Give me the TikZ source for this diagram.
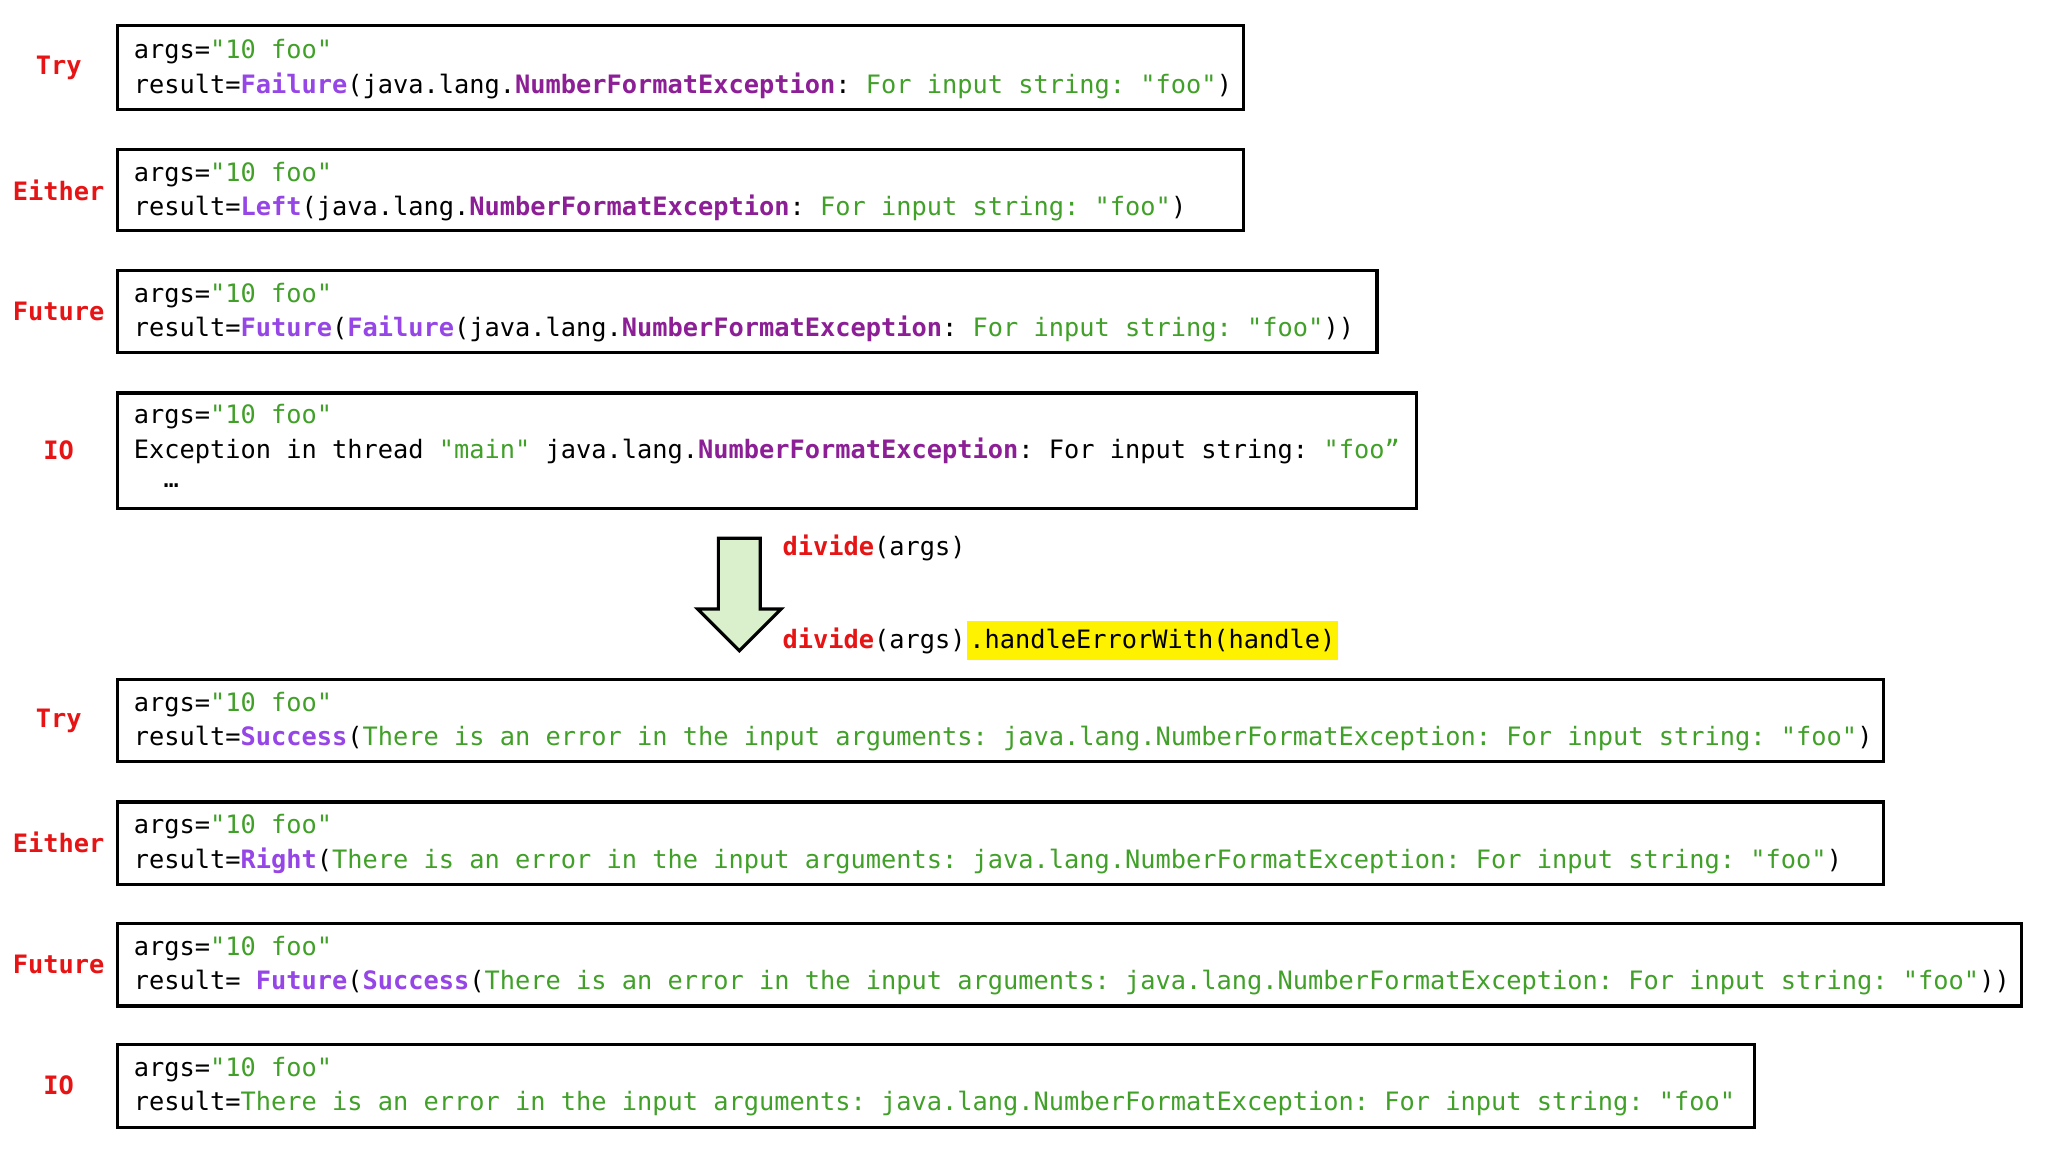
\documentclass[tikz,border=0pt]{standalone}
\usepackage{fontspec}
\setmonofont{DejaVu Sans Mono}
\definecolor{cg}{RGB}{64,160,40}
\definecolor{cp}{RGB}{150,70,230}
\definecolor{cd}{RGB}{140,30,150}
\definecolor{cr}{RGB}{230,20,20}
\definecolor{ag}{RGB}{218,240,204}
\newcommand\G[1]{\textcolor{cg}{#1}}
\newcommand\PP[1]{\textcolor{cp}{\bfseries #1}}
\newcommand\D[1]{\textcolor{cd}{\bfseries #1}}
\newcommand\NFE{java.lang.\D{NumberFormatException}}
\begin{document}
\begin{tikzpicture}[x=0.375pt,y=-0.375pt,
  bx/.style={draw,line width=1.2pt},
  ln/.style={anchor=west,inner sep=0pt,font=\ttfamily\fontsize{9.5}{11}\selectfont},
  lab/.style={font=\ttfamily\bfseries\fontsize{9.5}{11}\selectfont,text=cr}]
\useasboundingbox (0,0) rectangle (2048,1152);
\begin{scope}[scale=0.995]
% top boxes
\draw[bx] (118,26) rectangle (1250,110);
\node[lab] (l1) at (59,68) {Try};
\node[ln] (a1) at (134,52) {args=\G{"10 foo"}};
\node[ln] (b1) at (134,86) {result=\PP{Failure}(\NFE: \G{For input string: "foo"})};
\draw[bx] (118,150) rectangle (1250,232);
\node[lab] (l2) at (59,191) {Either};
\node[ln] (a2) at (134,175) {args=\G{"10 foo"}};
\node[ln] (b2) at (134,209) {result=\PP{Left}(\NFE: \G{For input string: "foo"})};
\draw[bx] (118,272) rectangle (1384,354);
\node[lab] (l3) at (59,313) {Future};
\node[ln] (a3) at (134,297) {args=\G{"10 foo"}};
\node[ln] (b3) at (134,331) {result=\PP{Future}(\PP{Failure}(\NFE: \G{For input string: "foo"}))};
\draw[bx] (118,395) rectangle (1424,511);
\node[lab] (l4) at (59,453) {IO};
\node[ln] (a4) at (134,419) {args=\G{"10 foo"}};
\node[ln] (b4) at (134,453) {Exception in thread \G{"main"} \NFE: For input string: \G{"foo”}};
\node[ln] (c4) at (164,488) {…};
% arrow
\filldraw[fill=ag,draw=black,line width=1.2pt] (722,541) -- (764,541) -- (764,612) -- (785,612) -- (743,654) -- (701,612) -- (722,612) -- cycle;
\node[ln] (d1) at (786,551) {\textcolor{cr}{\bfseries divide}(args)};
\node[ln] (d2) at (786,644) {\textcolor{cr}{\bfseries divide}(args)};
\node[anchor=west,fill=yellow,inner xsep=1pt,inner ysep=3pt,font=\ttfamily\fontsize{9.5}{11}\selectfont] (hl) at (d2.east) {.handleErrorWith(handle)};
% bottom boxes
\draw[bx] (118,683) rectangle (1893,765);
\node[lab] (l5) at (59,724) {Try};
\node[ln] (a5) at (134,708) {args=\G{"10 foo"}};
\node[ln] (b5) at (134,742) {result=\PP{Success}(\G{There is an error in the input arguments: java.lang.NumberFormatException: For input string: "foo"})};
\draw[bx] (118,806) rectangle (1893,889);
\node[lab] (l6) at (59,847) {Either};
\node[ln] (a6) at (134,831) {args=\G{"10 foo"}};
\node[ln] (b6) at (134,865) {result=\PP{Right}(\G{There is an error in the input arguments: java.lang.NumberFormatException: For input string: "foo"})};
\draw[bx] (118,928) rectangle (2032,1011);
\node[lab] (l7) at (59,969) {Future};
\node[ln] (a7) at (134,953) {args=\G{"10 foo"}};
\node[ln] (b7) at (134,987) {result= \PP{Future}(\PP{Success}(\G{There is an error in the input arguments: java.lang.NumberFormatException: For input string: "foo"}))};
\draw[bx] (118,1050) rectangle (1763,1133);
\node[lab] (l8) at (59,1091) {IO};
\node[ln] (a8) at (134,1075) {args=\G{"10 foo"}};
\node[ln] (b8) at (134,1109) {result=\G{There is an error in the input arguments: java.lang.NumberFormatException: For input string: "foo"}};
\end{scope}
\end{tikzpicture}
\end{document}
